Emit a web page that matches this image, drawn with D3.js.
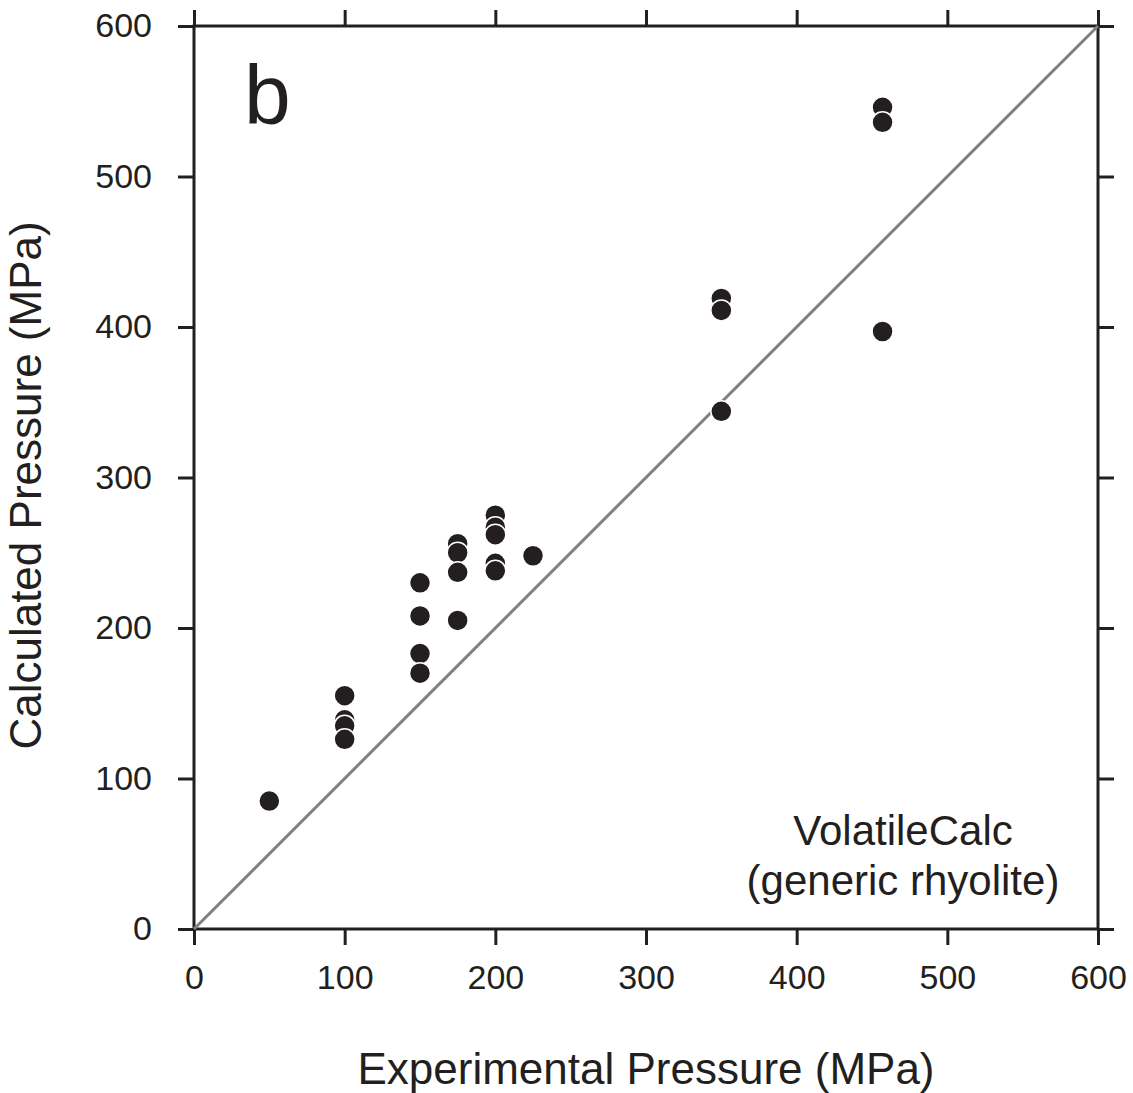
<!DOCTYPE html>
<html>
<head>
<meta charset="utf-8">
<script src="https://cdn.jsdelivr.net/npm/d3@7"></script>
<style>
  body { margin: 0; background: #fff; }
  text { font-family: "Liberation Sans", Arial, sans-serif; fill: #231f20; }
</style>
</head>
<body>
<div id="chart"></div>
<script>
const xTicks = [0, 100, 200, 300, 400, 500, 600];
const yTicks = [0, 100, 200, 300, 400, 500, 600];

// experimental vs calculated pressure (MPa)
const experimental = [50, 100, 100, 100, 100, 150, 150, 150, 150, 175, 175, 175, 175,
    200, 200, 200, 200, 200, 225, 350, 350, 350, 457, 457, 457];
const calculated = [85, 155, 139, 135, 126, 230, 208, 183, 170, 256, 250, 237, 205,
    275, 267, 262, 243, 238, 248, 419, 411, 344, 546, 536, 397];

const ink = "#231f20";
const width = 1133, height = 1093;
const margin = { top: 26, right: 35, bottom: 164, left: 194 };
const w = width - margin.left - margin.right;
const h = height - margin.top - margin.bottom;

const svg = d3.select("#chart")
    .append("svg")
    .attr("width", width)
    .attr("height", height);

const g = svg.append("g")
    .attr("transform", `translate(${margin.left},${margin.top})`);

const x = d3.scaleLinear().domain([0, 600]).range([0, w]);
const y = d3.scaleLinear().domain([0, 600]).range([h, 0]);

const tickLen = 16;

function styleAxis(sel) {
    sel.select(".domain").remove();
    sel.selectAll(".tick line").attr("stroke", ink).attr("stroke-width", 3);
    sel.selectAll(".tick text").attr("fill", ink).style("font-size", "34px");
}

// bottom
g.append("g")
    .attr("transform", `translate(0,${h})`)
    .call(d3.axisBottom(x).tickValues(xTicks).tickSize(tickLen).tickPadding(20))
    .call(styleAxis);

// top
g.append("g")
    .call(d3.axisTop(x).tickValues(xTicks).tickSize(tickLen).tickFormat(""))
    .call(styleAxis);

// left
g.append("g")
    .call(d3.axisLeft(y).tickValues(yTicks).tickSize(tickLen).tickPadding(26))
    .call(styleAxis);

// right
g.append("g")
    .attr("transform", `translate(${w},0)`)
    .call(d3.axisRight(y).tickValues(yTicks).tickSize(tickLen).tickFormat(""))
    .call(styleAxis);

g.append("rect")
    .attr("width", w)
    .attr("height", h)
    .attr("fill", "none")
    .attr("stroke", ink)
    .attr("stroke-width", 3);

// 1:1 line
g.append("line")
    .attr("x1", x(0)).attr("y1", y(0))
    .attr("x2", x(600)).attr("y2", y(600))
    .attr("stroke", "#808080")
    .attr("stroke-width", 3);

g.selectAll(".dot")
    .data(d3.range(experimental.length))
    .enter()
    .append("circle")
    .attr("class", "dot")
    .attr("cx", i => x(experimental[i]))
    .attr("cy", i => y(calculated[i]))
    .attr("r", 10.5)
    .attr("fill", ink)
    .attr("stroke", "#fff")
    .attr("stroke-width", 1.5);

g.append("text")
    .attr("x", 50)
    .attr("y", 98)
    .style("font-size", "84px")
    .text("b");

const note = g.append("text")
    .attr("text-anchor", "middle")
    .style("font-size", "42px");
note.append("tspan").attr("x", 709).attr("y", 819).text("VolatileCalc");
note.append("tspan").attr("x", 709).attr("y", 869).text("(generic rhyolite)");

svg.append("text")
    .attr("x", margin.left + w / 2)
    .attr("y", 1084)
    .attr("text-anchor", "middle")
    .style("font-size", "44px")
    .text("Experimental Pressure (MPa)");

svg.append("text")
    .attr("transform", `translate(41,${margin.top + h / 2 + 8}) rotate(-90)`)
    .attr("text-anchor", "middle")
    .style("font-size", "44px")
    .text("Calculated Pressure (MPa)");
</script>
</body>
</html>
